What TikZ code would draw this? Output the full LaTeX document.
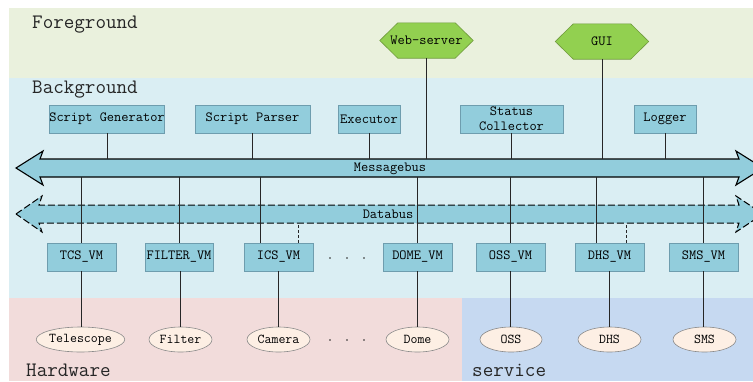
\documentclass[tikz,border=0pt]{standalone}
\usepackage{fontspec}
\usetikzlibrary{shapes.geometric}
\newcommand\tfs[2]{\ttfamily\fontsize{#1}{#2}\selectfont\addfontfeature{FakeStretch=0.85}}
\definecolor{fgband}{HTML}{EAF1DD}
\definecolor{bgband}{HTML}{DAEEF3}
\definecolor{hwband}{HTML}{F2DCDB}
\definecolor{svband}{HTML}{C6D9F1}
\definecolor{boxfill}{HTML}{92CDDC}
\definecolor{boxline}{HTML}{6E9DAE}
\definecolor{hexfill}{HTML}{92D050}
\definecolor{hexline}{HTML}{6F9A3C}
\definecolor{ellfill}{HTML}{FDEFE4}
\definecolor{ellline}{HTML}{8A8A8A}
\definecolor{lbl}{HTML}{262626}
\tikzset{
  bandlabel/.style={anchor=base west, inner sep=0pt, text=lbl, font=\tfs{20.5}{22}},
  compbox/.style={draw=boxline, fill=boxfill, line width=0.8pt, minimum height=28pt, inner sep=0pt, align=center, font=\tfs{14}{15}},
  hexnode/.style={minimum width=93pt, minimum height=35pt, inner sep=0pt, font=\tfs{14}{15}},
  hexshape/.style={draw=hexline, fill=hexfill, line width=0.6pt},
  devnode/.style={ellipse, draw=ellline, fill=ellfill, line width=0.6pt, minimum height=25pt, inner sep=0pt, font=\tfs{13.5}{14}},
  busshape/.style={draw=black, fill=boxfill, line width=1.1pt},
  buslabel/.style={inner sep=0pt, font=\tfs{14}{15}},
  conn/.style={draw=black!85, line width=0.9pt},
  dconn/.style={draw=black!85, line width=0.9pt, dash pattern=on 3pt off 2pt},
}
\begin{document}
\begin{tikzpicture}[x=1pt,y=-1pt]
\useasboundingbox (0,0) rectangle (753,381);
% bands
\fill[fgband] (9,8) rectangle (753,78);
\fill[bgband] (9,78) rectangle (753,298);
\fill[hwband] (9,298) rectangle (462,381);
\fill[svband] (462,298) rectangle (753,381);
\node[bandlabel] (lfg) at (32,28.5) {Foreground};
\node[bandlabel] (lbg) at (32,93) {Background};
\node[bandlabel] (lhw) at (26,376.5) {Hardware};
\node[bandlabel] (lsv) at (472,376) {service};
% buses
\path[busshape] (16,168) -- (43,151) -- (40,159) -- (739,159) -- (736,151) -- (763,168)
  -- (736,185) -- (739,177) -- (40,177) -- (43,185) -- cycle;
\node[buslabel] (mbus) at (390,169) {Messagebus};
\path[busshape, line width=1pt, dash pattern=on 7pt off 3pt] (16,214) -- (42,196) -- (39,205) -- (739,205) -- (736,196) -- (763,214)
  -- (736,232) -- (739,223) -- (39,223) -- (42,232) -- cycle;
\node[buslabel] (dbus) at (388,214) {Databus};
\coordinate (mt) at (0,159);
\coordinate (mb) at (0,177);
\coordinate (db) at (0,223);
% foreground hexagons
\node[hexnode] (web) at (426.5,40.5) {};
\node[hexnode] (gui) at (602,41.5) {};
\foreach \h in {web,gui}{
  \path[hexshape] (\h.west) -- ([xshift=18pt]\h.north west) -- ([xshift=-18pt]\h.north east)
    -- (\h.east) -- ([xshift=-18pt]\h.south east) -- ([xshift=18pt]\h.south west) -- cycle;
}
\node[hexnode] (webt) at (web) {Web-server};
\node[hexnode] (guit) at (gui) {GUI};
% background components
\node[compbox, minimum width=114pt] (sg) at (107,119) {Script Generator};
\node[compbox, minimum width=115pt] (sp) at (252.5,119) {Script Parser};
\node[compbox, minimum width=62pt] (ex) at (369,119) {Executor};
\node[compbox, minimum width=103pt] (sc) at (511.5,119) {Status\\Collector};
\node[compbox, minimum width=62pt] (lg) at (665,119) {Logger};
% VMs
\node[compbox, minimum width=69pt] (tcs) at (81.5,257) {TCS\_VM};
\node[compbox, minimum width=68pt] (flt) at (179,257) {FILTER\_VM};
\node[compbox, minimum width=69pt] (ics) at (278.5,257) {ICS\_VM};
\node[compbox, minimum width=69pt] (dome) at (417.5,257) {DOME\_VM};
\node[compbox, minimum width=69pt] (oss) at (510.5,257) {OSS\_VM};
\node[compbox, minimum width=69pt] (dhs) at (609.5,257) {DHS\_VM};
\node[compbox, minimum width=69pt] (sms) at (703.5,257) {SMS\_VM};
% devices
\node[devnode, minimum width=81pt] (tele) at (80.5,339.5) {Telescope};
\node[devnode, minimum width=63pt] (filt) at (180.5,339.5) {Filter};
\node[devnode, minimum width=63pt] (cam) at (278.5,339.5) {Camera};
\node[devnode, minimum width=63pt] (dom) at (417.5,339.5) {Dome};
\node[devnode, minimum width=62pt] (ossd) at (511,339.5) {OSS};
\node[devnode, minimum width=63pt] (dhsd) at (609.5,339.5) {DHS};
\node[devnode, minimum width=63pt] (smsd) at (704.5,339.5) {SMS};
% dots
\foreach \x in {330,347,364}{
  \fill[black!85] (\x,258) circle (0.9pt);
  \fill[black!85] (\x,340) circle (0.9pt);
}
% connectors to messagebus (top)
\foreach \n in {sg,sp,ex,sc,lg,web,gui}{
  \draw[conn] (\n.south) -- (\n.south |- mt);
}
% connectors from messagebus to VMs
\foreach \n in {tcs,flt,dome,oss,sms}{
  \draw[conn] (\n.north) -- (\n.north |- mb);
}
\draw[conn] ([xshift=-18.5pt]ics.north) -- ([xshift=-18.5pt]ics.north |- mb);
\draw[conn] ([xshift=-13.5pt]dhs.north) -- ([xshift=-13.5pt]dhs.north |- mb);
\draw[dconn] ([xshift=19.5pt]ics.north) -- ([xshift=19.5pt]ics.north |- db);
\draw[dconn] ([xshift=16.5pt]dhs.north) -- ([xshift=16.5pt]dhs.north |- db);
% VMs to devices
\draw[conn] (tcs.south) -- (tcs.south |- tele.north);
\draw[conn] (filt.north |- flt.south) -- (filt.north);
\draw[conn] (ics) -- (cam);
\draw[conn] (dome) -- (dom);
\draw[conn] (oss.south) -- (oss.south |- ossd.north);
\draw[conn] (dhs) -- (dhsd);
\draw[conn] (sms.south) -- (sms.south |- smsd.north);
\end{tikzpicture}
\end{document}
